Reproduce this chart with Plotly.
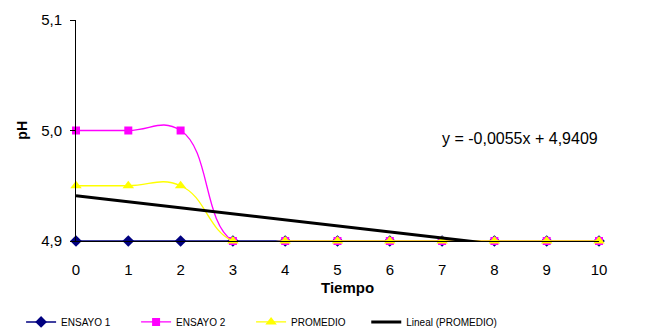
import numpy as np
import plotly.graph_objects as go

tiempo = [0, 1, 2, 3, 4, 5, 6, 7, 8, 9, 10]
ensayo1 = [4.9, 4.9, 4.9, 4.9, 4.9, 4.9, 4.9, 4.9, 4.9, 4.9, 4.9]
ensayo2 = [5.0, 5.0, 5.0, 4.9, 4.9, 4.9, 4.9, 4.9, 4.9, 4.9, 4.9]
promedio = [4.95, 4.95, 4.95, 4.9, 4.9, 4.9, 4.9, 4.9, 4.9, 4.9, 4.9]
y_ticks = [4.9, 5.0, 5.1]

slope, intercept = np.polyfit(tiempo, promedio, 1)
trend = [slope * x + intercept for x in tiempo]
eq_text = f"y = {slope:.4f}x + {intercept:.4f}".replace(".", ",")

FONT = "Liberation Sans, Arial, sans-serif"

fig = go.Figure()
fig.add_trace(go.Scatter(
    x=tiempo, y=ensayo1, name="ENSAYO 1", mode="lines+markers",
    line=dict(color="#000080", width=1.5, shape="spline"),
    marker=dict(symbol="diamond", size=9, color="#000080"),
    cliponaxis=False, legend="legend"))
fig.add_trace(go.Scatter(
    x=tiempo, y=ensayo2, name="ENSAYO 2", mode="lines+markers",
    line=dict(color="#FF00FF", width=1.3, shape="spline", smoothing=1.3),
    marker=dict(symbol="square", size=8, color="#FF00FF"),
    cliponaxis=False, legend="legend"))
fig.add_trace(go.Scatter(
    x=tiempo, y=promedio, name="PROMEDIO", mode="lines+markers",
    line=dict(color="#FFFF00", width=1.3, shape="spline", smoothing=1.3),
    marker=dict(symbol="triangle-up", size=10, color="#FFFF00"),
    cliponaxis=False, legend="legend"))
fig.add_trace(go.Scatter(
    x=tiempo, y=trend, name="Lineal (PROMEDIO)", mode="lines",
    line=dict(color="#000000", width=3),
    cliponaxis=True, legend="legend2"))

fig.add_annotation(x=8.49, y=4.993, xref="x", yref="y", text=eq_text,
                   showarrow=False, font=dict(family=FONT, size=16, color="#000"))
fig.add_annotation(x=0.52, y=-0.21, xref="paper", yref="paper", text="<b>Tiempo</b>",
                   showarrow=False, font=dict(family=FONT, size=15, color="#000"),
                   yanchor="middle")
fig.add_annotation(x=-0.124, y=0.5, xref="paper", yref="paper", text="<b>pH</b>",
                   textangle=-90, showarrow=False,
                   font=dict(family=FONT, size=14, color="#000"))

legend_common = dict(orientation="h", yanchor="middle", y=-0.366,
                     font=dict(family=FONT, size=10, color="#000"),
                     itemwidth=30, bgcolor="rgba(0,0,0,0)")

fig.update_layout(
    width=646, height=335,
    margin=dict(l=76, r=47, t=20, b=94, autoexpand=False),
    paper_bgcolor="white", plot_bgcolor="white",
    separators=",.",
    font=dict(family=FONT, size=15, color="#000"),
    showlegend=True,
    legend=dict(x=-0.105, xanchor="left", entrywidth=70, entrywidthmode="pixels",
                **legend_common),
    legend2=dict(x=0.555, xanchor="left", **legend_common),
    xaxis=dict(range=[0, 10], tickvals=tiempo, showgrid=False, zeroline=False,
               showline=True, linecolor="#000", linewidth=1, ticks="",
               ticklabelstandoff=15, tickfont=dict(size=15)),
    yaxis=dict(range=[4.9, 5.1], tickvals=y_ticks, tickformat=".1f", showgrid=False,
               zeroline=False, showline=True, linecolor="#000", linewidth=1,
               ticks="outside", ticklen=5, tickcolor="#000",
               ticklabelstandoff=5, tickfont=dict(size=15)),
)

fig.write_html("out.html", config={"displayModeBar": False},
               post_script="document.body.style.margin='0';document.body.style.overflow='hidden';")
